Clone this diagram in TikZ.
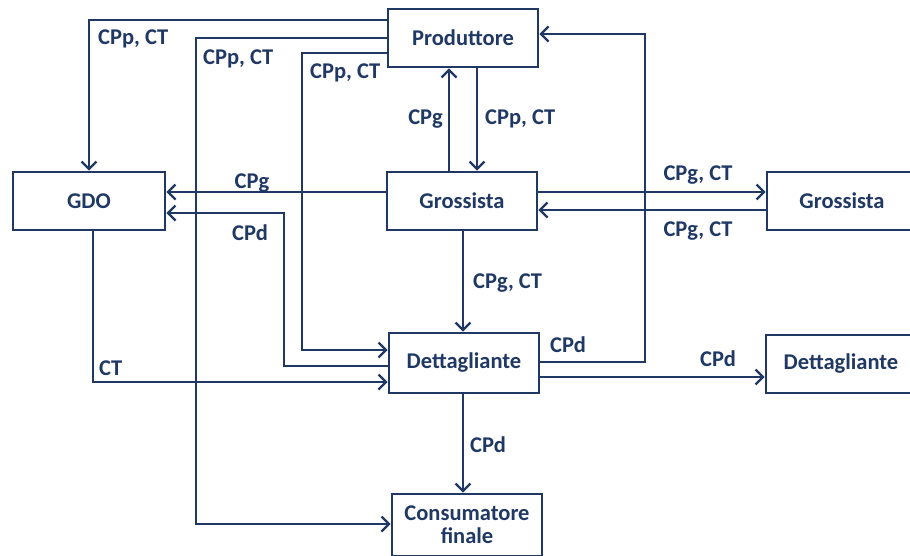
\documentclass[tikz,border=0pt]{standalone}
\usepackage{fontspec}
\setmainfont{Carlito}
\usetikzlibrary{arrows.meta}
\definecolor{navy}{RGB}{31,56,100}
\tikzset{
  ente/.style={draw=navy, line width=2.6pt, fill=white, minimum width=150pt,
    minimum height=58pt, inner sep=0pt, text=navy, align=center,
    font=\bfseries\fontsize{22.5}{23}\selectfont},
  flusso/.style={draw=navy, line width=2.6pt,
    -{Straight Barb[length=7.5pt,width=15pt,line width=2.4pt]}},
  lab/.style={inner sep=0pt, text=navy, font=\bfseries\fontsize{22.5}{23}\selectfont}
}
\begin{document}
\begin{tikzpicture}[x=1pt,y=-1pt]
\useasboundingbox (0,0) rectangle (910,555);
\clip (0,0) rectangle (910,555);
\fill[white] (0,0) rectangle (910,555);

\node[ente] (prod) at (463,38) {Produttore};
\node[ente] (gros) at (462,201) {Grossista};
\node[ente, minimum width=152pt] (gdo) at (89,201) {GDO};
\node[ente] (grosr) at (842,201) {Grossista};
\node[ente, minimum height=60pt] (dett) at (464,363) {Dettagliante};
\node[ente] (dettr) at (841,364) {Dettagliante};
\node[ente, minimum height=62pt] (cons) at (467,525) {Consumatore\\finale};

\draw[flusso] (prod.west |- 0,20) -| (gdo.north);
\draw[flusso] (prod.west |- 0,38) -| (196,300) |- (cons.west |- 0,524);
\draw[flusso] (prod.west |- 0,53) -| (302,200) |- (dett.west |- 0,350);
\draw[flusso] (gros.north -| 449,0) -- (prod.south -| 449,0);
\draw[flusso] (prod.south -| 477,0) -- (gros.north -| 477,0);
\draw[flusso] (gros.west |- 0,192) -- (gdo.east |- 0,192);
\draw[flusso] (dett.west |- 0,366) -| (284,300) |- (gdo.east |- 0,213);
\draw[flusso] (gdo.south -| 93,0) |- (dett.west |- 0,382);
\draw[flusso] (gros.south -| 463,0) -- (dett.north -| 463,0);
\draw[flusso] (gros.east |- 0,192) -- (grosr.west |- 0,192);
\draw[flusso] (grosr.west |- 0,210) -- (gros.east |- 0,210);
\draw[flusso] (dett.east |- 0,362) -| (645,200) |- (prod.east |- 0,34);
\draw[flusso] (dett.east |- 0,377) -- (dettr.west |- 0,377);
\draw[flusso] (dett.south -| 463,0) -- (cons.north -| 463,0);

\node[lab, anchor=west] (l1) at (98,39) {CPp, CT};
\node[lab, anchor=west] (l2) at (203,59) {CPp, CT};
\node[lab, anchor=west] (l3) at (310,73) {CPp, CT};
\node[lab, anchor=east] (l4) at (443,119) {CPg};
\node[lab, anchor=west] (l5) at (485,119) {CPp, CT};
\node[lab] (l6) at (252,183) {CPg};
\node[lab] (l7) at (250,233) {CPd};
\node[lab, anchor=west] (l8) at (99,368) {CT};
\node[lab, anchor=west] (l9) at (473,283) {CPg, CT};
\node[lab] (l10) at (698,175) {CPg, CT};
\node[lab] (l11) at (698,231) {CPg, CT};
\node[lab, anchor=west] (l12) at (550,345) {CPd};
\node[lab] (l13) at (718,359) {CPd};
\node[lab, anchor=west] (l14) at (470,445) {CPd};
\end{tikzpicture}
\end{document}
